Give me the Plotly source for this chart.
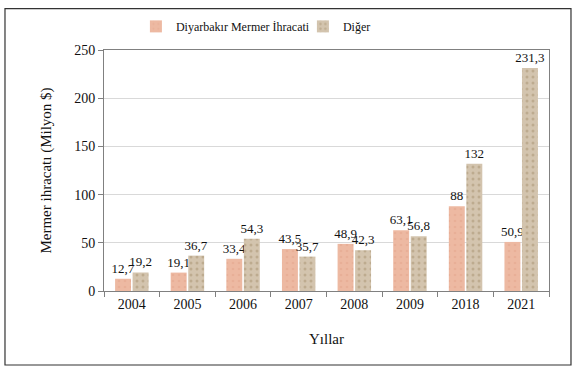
import plotly.graph_objects as go

years = ["2004", "2005", "2006", "2007", "2008", "2009", "2018", "2021"]
diyarbakir = [12.7, 19.1, 33.4, 43.5, 48.9, 63.1, 88, 50.9]
diger = [19.2, 36.7, 54.3, 35.7, 42.3, 56.8, 132, 231.3]

def fmt(v):
    return ("%g" % v).replace(".", ",")

FONT = "Liberation Serif"

fig = go.Figure()
fig.add_trace(go.Bar(
    x=years, y=diyarbakir, name="Diyarbakır Mermer İhracati",
    marker=dict(color="#EDB9A2", line=dict(width=0),
                pattern=dict(shape=".", fgcolor="#E3A58C", size=6, solidity=0.15)),
    text=[fmt(v) for v in diyarbakir], textposition="outside", constraintext="none",
    textfont=dict(family=FONT, size=13, color="#111"), cliponaxis=False,
))
fig.add_trace(go.Bar(
    x=years, y=diger, name="Diğer",
    marker=dict(color="#D3C4AE", line=dict(width=0),
                pattern=dict(shape=".", fgcolor="#A8916F", size=6, solidity=0.2)),
    text=[fmt(v) for v in diger], textposition="outside", constraintext="none",
    textfont=dict(family=FONT, size=13, color="#111"), cliponaxis=False,
))

fig.update_layout(
    width=576, height=371,
    margin=dict(l=104, r=27, t=47, b=80),
    paper_bgcolor="white", plot_bgcolor="white",
    font=dict(family=FONT, size=14, color="#111"),
    barmode="group", bargap=0.37, bargroupgap=0.09,
    showlegend=True,
    legend=dict(orientation="h", x=0.447, xanchor="center", y=1.098, yanchor="middle",
                font=dict(family=FONT, size=12, color="#111"),
                itemwidth=30, entrywidth=122, entrywidthmode="pixels",
                bgcolor="rgba(0,0,0,0)"),
    xaxis=dict(
        title=dict(text="Yıllar", font=dict(family=FONT, size=15), standoff=22),
        showline=True, linecolor="#808080", linewidth=1, mirror=True,
        ticks="outside", tickson="boundaries", ticklen=5, tickcolor="#808080",
        tickfont=dict(family=FONT, size=14),
    ),
    yaxis=dict(
        title=dict(text="Mermer ihracatı (Milyon $)", font=dict(family=FONT, size=15), standoff=18),
        range=[0, 250], dtick=50,
        showline=True, linecolor="#808080", linewidth=1, mirror=True,
        ticks="outside", ticklen=5, tickcolor="#808080",
        showgrid=True, gridcolor="#D9D9D9", gridwidth=1,
        zeroline=False,
        tickfont=dict(family=FONT, size=14),
    ),
    shapes=[dict(type="rect", xref="paper", yref="paper",
                 x0=-0.2225, x1=1.0494, y0=-0.307, y1=1.172,
                 line=dict(color="#333", width=1.2), fillcolor="rgba(0,0,0,0)", layer="below")],
)

fig.write_html("out.html", config={"displayModeBar": False},
               post_script="document.body.style.margin='0';")
